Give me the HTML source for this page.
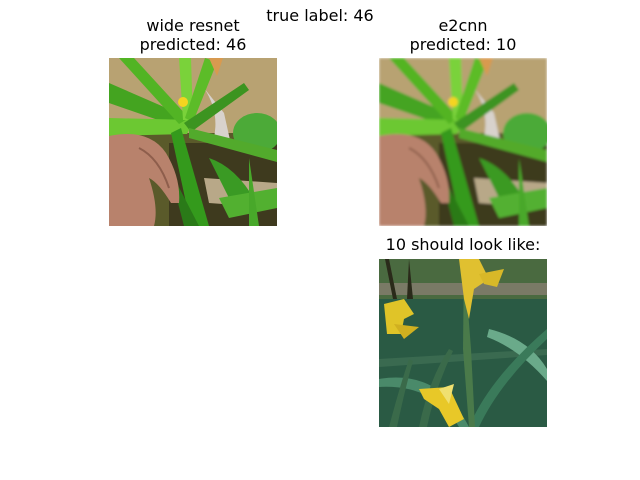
<!DOCTYPE html>
<html><head><meta charset="utf-8">
<style>
html,body{margin:0;padding:0;background:#fff;}
#fig{position:relative;width:640px;height:480px;overflow:hidden;font-family:"DejaVu Sans","Liberation Sans",sans-serif;color:#000;}
.t{position:absolute;font-size:16px;text-align:center;line-height:19px;white-space:nowrap;transform:translateX(-50%);}
svg.img{position:absolute;width:168px;height:168px;}
</style></head>
<body>
<div id="fig">
<div class="t" style="left:320px;top:6px;">true label: 46</div>
<div class="t" style="left:193px;top:16px;">wide resnet<br>predicted: 46</div>
<div class="t" style="left:463px;top:16px;">e2cnn<br>predicted: 10</div>
<div class="t" style="left:463px;top:235px;">10 should look like:</div>

<svg width="0" height="0" style="position:absolute">
<defs>
<g id="plant">
<rect width="168" height="168" fill="#5a5a2a"/>
<rect width="168" height="75" fill="#b8a272"/>
<path d="M95 30 Q115 60 100 95 L125 100 L115 55 Z" fill="#d8d2cc"/>
<rect x="60" y="85" width="108" height="83" fill="#3e3a1e"/>
<path d="M95 120 L168 125 L168 150 L100 145 Z" fill="#b8a888"/>
<ellipse cx="148" cy="75" rx="24" ry="20" fill="#4caa38"/>
<path d="M0 25 L85 62 L78 72 L0 45 Z" fill="#44a420"/>
<path d="M0 60 L85 62 L78 76 L0 78 Z" fill="#6cc832"/>
<path d="M25 0 L80 60 L70 66 L10 0 Z" fill="#52b424"/>
<path d="M70 0 L82 0 L84 62 L74 62 Z" fill="#7ad23a"/>
<path d="M96 0 L108 4 L84 64 L76 60 Z" fill="#5cbc28"/>
<path d="M75 65 L135 25 L140 32 L82 74 Z" fill="#3c9420"/>
<path d="M72 70 L100 168 L82 168 L62 75 Z" fill="#349a1c"/>
<path d="M80 70 L168 92 L168 104 L80 80 Z" fill="#52aa2c"/>
<path d="M100 100 Q130 110 150 150 L125 150 Z" fill="#3a9a24"/>
<path d="M110 140 L168 130 L168 150 L120 160 Z" fill="#52b030"/>
<path d="M60 110 L90 168 L75 168 Z" fill="#2a7a18"/>
<path d="M140 100 L150 168 L140 168 Z" fill="#48a82a"/>
<circle cx="74" cy="44" r="5" fill="#f4d420"/>
<path d="M0 78 Q40 70 57 95 Q72 120 70 145 L62 145 Q50 125 40 120 Q50 150 45 168 L0 168 Z" fill="#b8826c"/>
<path d="M30 90 Q50 100 60 130" stroke="#8e5e4c" stroke-width="2" fill="none"/>
<path d="M100 0 L114 0 L108 18 Z" fill="#d89a50"/>
</g>
<g id="iris">
<rect width="168" height="168" fill="#2e5442"/>
<rect width="168" height="40" fill="#4a6a40"/>
<rect y="24" width="168" height="12" fill="#7a7a66"/>
<path d="M10 0 L18 40 L14 40 L6 0 Z" fill="#2a2a1a"/>
<path d="M30 0 L34 40 L28 40 Z" fill="#2a2a1a"/>
<rect y="40" width="168" height="128" fill="#2a5a44"/>
<path d="M0 100 L168 90 L168 96 L0 108 Z" fill="#3a6a50"/>
<path d="M0 120 Q60 110 90 168 L80 168 Q55 125 0 128 Z" fill="#4a8a6a"/>
<path d="M110 70 Q150 80 168 110 L168 122 Q140 90 108 78 Z" fill="#6aaa8a"/>
<path d="M90 168 Q110 120 168 70 L168 80 Q120 125 100 168 Z" fill="#3a7a5a"/>
<path d="M40 168 Q50 120 70 90 L74 92 Q56 130 48 168 Z" fill="#3a6a4a"/>
<path d="M10 168 Q20 130 30 100 L34 102 Q26 130 18 168 Z" fill="#3a6a4a"/>
<path d="M85 0 L92 90 L96 168 L90 168 L84 90 Z" fill="#4a7a4a"/>
<path d="M80 0 L100 0 L110 20 L95 30 L90 60 L85 40 Z" fill="#e0c030"/>
<path d="M100 15 L125 10 L118 28 L105 25 Z" fill="#d8b828"/>
<path d="M5 45 L25 40 L35 55 L25 60 L22 75 L8 75 Z" fill="#e0c428"/>
<path d="M15 65 L40 68 L25 80 Z" fill="#d0b020"/>
<path d="M40 130 L70 128 L85 160 L70 168 L60 150 L45 140 Z" fill="#e8c828"/>
<path d="M60 130 L75 125 L70 145 Z" fill="#f0e070"/>
</g>
<filter id="blur"><feGaussianBlur stdDeviation="1.2"/></filter>
</defs>
</svg>

<svg class="img" style="left:109px;top:58px;" viewBox="0 0 168 168"><use href="#plant"/></svg>
<svg class="img" style="left:379px;top:58px;" viewBox="0 0 168 168"><g filter="url(#blur)"><use href="#plant"/></g></svg>
<svg class="img" style="left:379px;top:259px;" viewBox="0 0 168 168"><use href="#iris"/></svg>
</div>
</body></html>
